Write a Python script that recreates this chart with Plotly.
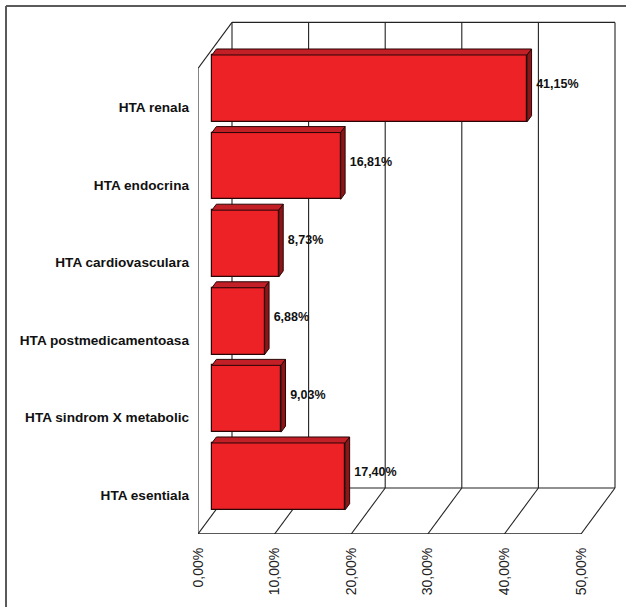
import plotly.graph_objects as go

# Hypertension types and their shares (%)
categories = ["HTA esentiala", "HTA sindrom X metabolic", "HTA postmedicamentoasa",
              "HTA cardiovasculara", "HTA endocrina", "HTA renala"]
values = [17.40, 9.03, 6.88, 8.73, 16.81, 41.15]
x_ticks = [0, 10, 20, 30, 40, 50]
x_tick_text = [f"{t:.2f}".replace(".", ",") + "%" for t in x_ticks]

# Figure / plot-area geometry (pixels)
W, H = 626, 607
M_L, M_R, M_T, M_B = 198, 0, 0, 73
PX_PER_PCT = 7.66
PX_PER_CAT = 77.6
plot_w = W - M_L - M_R
plot_h = H - M_T - M_B
x_max = plot_w / PX_PER_PCT
y_min = -0.5
y_max = y_min + plot_h / PX_PER_CAT

# 3D box depth (in data units) and bar placement inside the depth
DX = 34 / PX_PER_PCT
DY = 46 / PX_PER_CAT
F_BAR = 0.41                 # bar front face position along the depth
BX, BY = F_BAR * DX, F_BAR * DY
TX, TY = 0.13 * DX, 0.13 * DY  # bar depth (top / side faces)
HALF = 0.43                  # half bar thickness

FRONT = "#ED2227"
TOP = "#C21F27"
SIDE = "#8C1518"
EDGE = "#2A0606"
GRID = "#222222"
LABEL_FONT = "Liberation Sans Narrow, Arial Narrow, Liberation Sans, Arial"

n = len(categories)
idx = list(range(n))
y_lo, y_hi = -0.5, n - 0.5

fig = go.Figure()

# Front faces of the bars
fig.add_trace(go.Bar(
    orientation="h",
    x=values,
    y=[i + BY for i in idx],
    base=[BX] * n,
    width=2 * HALF,
    marker=dict(color=FRONT, line=dict(color=EDGE, width=1.2)),
    hoverinfo="skip",
    showlegend=False,
))

# Top and side faces of the bars
top_x, top_y, side_x, side_y = [], [], [], []
for i, v in zip(idx, values):
    yc = i + BY
    x0, x1 = BX, BX + v
    yt, yb = yc + HALF, yc - HALF
    top_x += [x0, x1, x1 + TX, x0 + TX, x0, None]
    top_y += [yt, yt, yt + TY, yt + TY, yt, None]
    side_x += [x1, x1 + TX, x1 + TX, x1, x1, None]
    side_y += [yb, yb + TY, yt + TY, yt, yb, None]

fig.add_trace(go.Scatter(x=top_x, y=top_y, mode="lines", fill="toself",
                         fillcolor=TOP, line=dict(color=EDGE, width=1),
                         hoverinfo="skip", showlegend=False))
fig.add_trace(go.Scatter(x=side_x, y=side_y, mode="lines", fill="toself",
                         fillcolor=SIDE, line=dict(color=EDGE, width=1),
                         hoverinfo="skip", showlegend=False))

# Value labels
fig.add_trace(go.Scatter(
    x=[BX + v + TX + 0.6 for v in values],
    y=[i + BY + TY / 2 for i in idx],
    mode="text",
    text=[f"{v:.2f}".replace(".", ",") + "%" for v in values],
    textposition="middle right",
    textfont=dict(family=LABEL_FONT, size=12.5, color="#111111", weight="bold"),
    hoverinfo="skip", showlegend=False,
))

# Wall / floor lines of the 3D box
shapes = []


def seg(x0, y0, x1, y1, w=1.1):
    shapes.append(dict(type="line", xref="x", yref="y", x0=x0, y0=y0, x1=x1, y1=y1,
                       line=dict(color=GRID, width=w), layer="below"))


for t in x_ticks:
    seg(t + DX, y_lo + DY, t + DX, y_hi + DY)      # back wall gridline
    seg(t, y_lo, t + DX, y_lo + DY)                # floor line
seg(DX, y_hi + DY, x_ticks[-1] + DX, y_hi + DY)    # back wall top
seg(DX, y_lo + DY, x_ticks[-1] + DX, y_lo + DY)    # back wall bottom
seg(0, y_lo, x_ticks[-1], y_lo, 1.6)               # front floor edge
seg(0, y_lo, 0, y_hi)                              # left wall front edge
seg(0, y_hi, DX, y_hi + DY)                        # left wall top edge

# Outer chart frame (left and top)
frame_px = 6
fx = (frame_px - M_L) / plot_w
fy = (H - M_B - frame_px) / plot_h
shapes.append(dict(type="line", xref="paper", yref="paper", x0=fx, y0=fy, x1=2, y1=fy,
                   line=dict(color="#5A5A5A", width=2)))
shapes.append(dict(type="line", xref="paper", yref="paper", x0=fx, y0=fy, x1=fx, y1=-1,
                   line=dict(color="#5A5A5A", width=2)))

fig.update_layout(
    width=W, height=H,
    margin=dict(l=M_L, r=M_R, t=M_T, b=M_B, pad=0, autoexpand=False),
    paper_bgcolor="white", plot_bgcolor="white",
    shapes=shapes,
    bargap=0,
    xaxis=dict(range=[0, x_max], tickvals=x_ticks, ticktext=x_tick_text,
               tickangle=-90, ticks="", ticklabelstandoff=10, automargin=False,
               tickfont=dict(family="Liberation Sans, Arial", size=14, color="#222222"),
               showgrid=False, zeroline=False, showline=False, fixedrange=True),
    yaxis=dict(range=[y_min, y_max], tickvals=idx, ticktext=categories,
               ticks="", ticklabelstandoff=8, automargin=False,
               tickfont=dict(family=LABEL_FONT, size=13.6, color="#111111", weight="bold"),
               showgrid=False, zeroline=False, showline=False, fixedrange=True),
)

fig.write_html("out.html")
